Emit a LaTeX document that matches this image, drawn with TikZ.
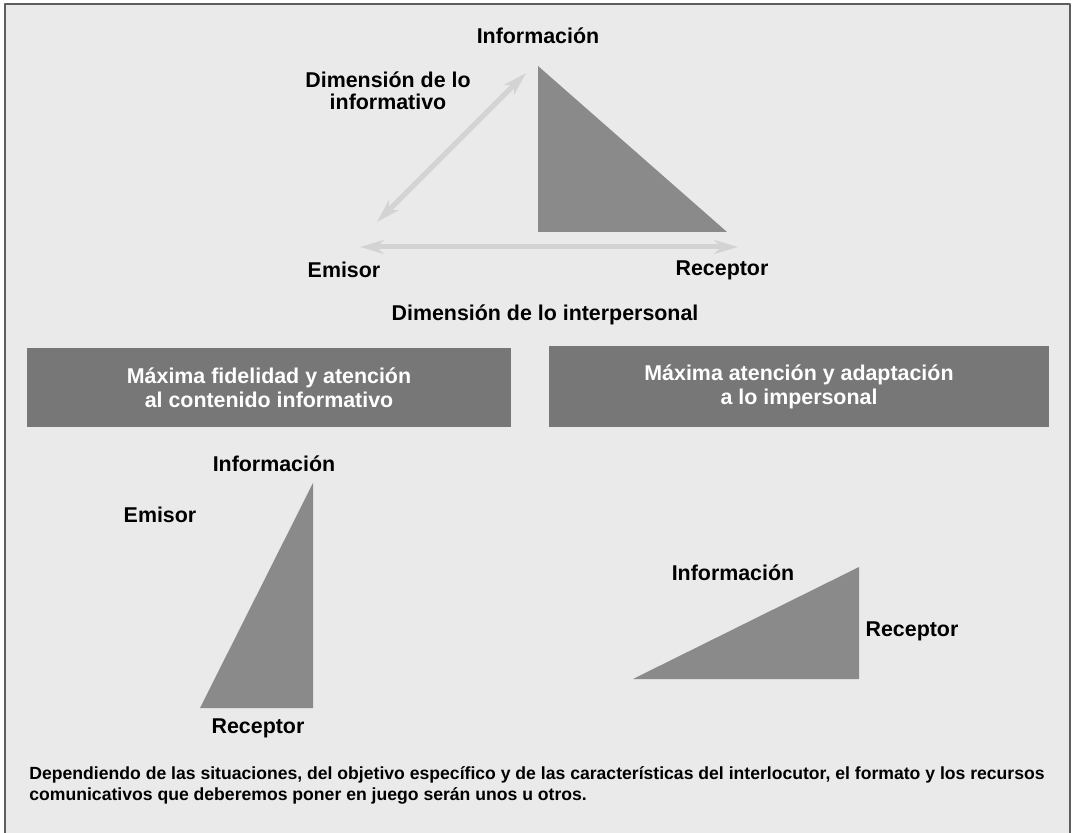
\documentclass[tikz,border=0pt]{standalone}
\usepackage{fontspec}
\setmainfont{Liberation Sans}
\usetikzlibrary{arrows.meta}

\definecolor{grisFondo}{HTML}{EAEAEA}
\definecolor{grisMarco}{HTML}{5E5E5E}
\definecolor{grisTri}{HTML}{8A8A8A}
\definecolor{grisCaja}{HTML}{777777}
\definecolor{grisFlecha}{HTML}{D3D3D3}

\begin{document}
\begin{tikzpicture}[x=0.5pt,y=-0.5pt, line join=round,
	etiq/.style={font=\fontsize{10.7}{11}\selectfont\bfseries, align=center, inner sep=0pt},
	cajaTxt/.style={fill=grisCaja, text=white, inner sep=0pt, align=center,
		font=\fontsize{10.7}{12}\selectfont\bfseries, minimum height=39.5pt},
	flechas/.style={draw=grisFlecha, line width=2.5pt,
		{Stealth[length=12pt,width=7pt]}-{Stealth[length=12pt,width=7pt]}},
	triang/.style={fill=grisTri}]
	\def\W{1076} \def\H{833} % tamaño en px

	\useasboundingbox (0,0) rectangle (\W,\H);
	\fill[white] (0,0) rectangle (\W,\H);
	\fill[grisFondo] (5,4) rectangle (1070,\H);
	\draw[grisMarco, line width=1pt] (5,\H) |- (1070,4) -- (1070,\H);

	% triángulo superior
	\fill[triang] (538,66) -- (538,232) -- (727,232) -- cycle;
	\node[etiq] (infoA) at (538,36) {Información};
	\node[etiq] (dimInf) at (388,91) {Dimensión de lo\\informativo};
	\node[etiq] (emisorA) at (344,270) {Emisor};
	\node[etiq] (receptorA) at (722,270) {Receptor};
	\node[etiq] (dimInter) at (545,315) {Dimensión de lo interpersonal};

	\coordinate (pE) at (377,222); \coordinate (pI) at (526,73);
	\coordinate (hE) at (360,247); \coordinate (hR) at (738,247);
	\draw[flechas] (pE) -- (pI);
	\draw[flechas] (hE) -- (hR);

	% cajas
	\node[cajaTxt, minimum width=242pt] (cajaA) at (269,387.5)
		{Máxima fidelidad y atención\\al contenido informativo};
	\node[cajaTxt, minimum width=250pt, minimum height=40.5pt] (cajaB) at (799,386.5)
		{Máxima atención y adaptación\\a lo impersonal};

	% triángulo izquierdo
	\fill[triang] (313,483) -- (313,708) -- (200,708) -- cycle;
	\node[etiq] (infoB) at (274,464) {Información};
	\node[etiq] (emisorB) at (160,515) {Emisor};
	\node[etiq] (receptorB) at (258,728) {Receptor};

	% triángulo derecho
	\fill[triang] (633,679) -- (859,567) -- (859,679) -- cycle;
	\node[etiq] (infoC) at (733,573) {Información};
	\node[etiq] (receptorC) at (912,631) {Receptor};

	\node[font=\fontsize{8.8}{10.6}\selectfont\bfseries, align=left, inner sep=0pt, anchor=north west] (nota) at (29,766)
		{Dependiendo de las situaciones, del objetivo específico y de las características del interlocutor, el formato y los recursos\\
		comunicativos que deberemos poner en juego serán unos u otros.};
\end{tikzpicture}
\end{document}
